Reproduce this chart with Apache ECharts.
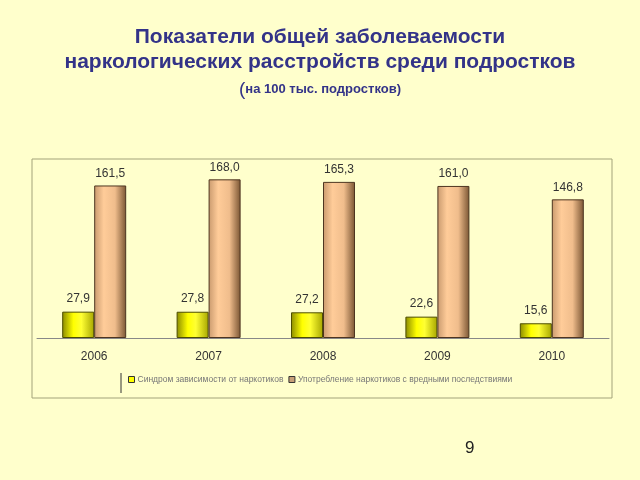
<!DOCTYPE html>
<html><head><meta charset="utf-8">
<script src="https://cdn.jsdelivr.net/npm/echarts@6/dist/echarts.min.js"></script>
<style>html,body{margin:0;padding:0;background:#FFFFCC;}#c{width:640px;height:480px;}</style>
</head><body><div id="c"></div>
<script>
const categories = ['2006','2007','2008','2009','2010'];
const seriesNames = ['Синдром зависимости от наркотиков','Употребление наркотиков с вредными последствиями'];
const syndrome = [27.9, 27.8, 27.2, 22.6, 15.6];
const harmfulUse = [161.5, 168.0, 165.3, 161.0, 146.8];

const fmt = p => p.value.toFixed(1).replace('.', ',');
const yellowGrad = new echarts.graphic.LinearGradient(0,0,1,0,[
  {offset:0,color:'#8a8a00'},{offset:0.35,color:'#ffff00'},{offset:0.6,color:'#ffff33'},{offset:1,color:'#a6a600'}]);
const orangeGrad = new echarts.graphic.LinearGradient(0,0,1,0,[
  {offset:0,color:'#c99a6e'},{offset:0.3,color:'#ffcc99'},{offset:0.65,color:'#f0bd8c'},{offset:1,color:'#7a5533'}]);

const chart = echarts.init(document.getElementById('c'));
chart.setOption({
  backgroundColor:'#FFFFCC',
  animation:false,
  title:[{
    text:'Показатели общей заболеваемости\nнаркологических расстройств среди подростков',
    left:'center', top:20,
    textStyle:{color:'#333388',fontFamily:'Liberation Sans, Arial',fontSize:21,fontWeight:'bold',lineHeight:25}
  },{
    text:'{p|(}на 100 тыс. подростков)',
    left:'center', top:75,
    textStyle:{color:'#333388',fontFamily:'Liberation Sans, Arial',fontSize:13,fontWeight:'bold',
      rich:{p:{fontSize:19,fontWeight:'normal',color:'#333388',fontFamily:'Liberation Sans, Arial'}}}
  }],
  graphic:[
    {type:'rect',shape:{x:32,y:159,width:580,height:239},style:{fill:'none',stroke:'#a3a37a',lineWidth:1},z:-1},
    {type:'line',shape:{x1:121,y1:373,x2:121,y2:393},style:{stroke:'#333',lineWidth:1}},
    {type:'text',left:465,top:440,style:{text:'9',fill:'#222',fontSize:17,fontFamily:'Liberation Sans, Arial'}}
  ],
  legend:{
    bottom:91, left:123, itemGap:5, itemWidth:6, itemHeight:6,
    textStyle:{fontSize:8.5,color:'#777',fontFamily:'Liberation Sans, Arial',padding:[0,0,0,-2]},
    data:[{name:seriesNames[0],itemStyle:{color:'#ffff00',borderColor:'#333',borderWidth:1}},
          {name:seriesNames[1],itemStyle:{color:'#c8a078',borderColor:'#333',borderWidth:1}}],
    icon:'rect'
  },
  grid:{left:37,right:31,top:168,bottom:142},
  xAxis:{
    type:'category', data:categories,
    axisLine:{lineStyle:{color:'#888'}},
    axisTick:{interval:1,length:5,lineStyle:{color:'#888'}},
    axisLabel:{color:'#333',fontSize:12,margin:13,fontFamily:'Liberation Sans, Arial'}
  },
  yAxis:{type:'value',min:0,max:180,show:false,splitLine:{show:false}},
  series:[
    {name:seriesNames[0],type:'bar',data:syndrome,barWidth:32,barGap:'0%',
     itemStyle:{color:yellowGrad,borderColor:'#4d4d00',borderWidth:1},
     label:{show:true,position:'top',distance:7,formatter:fmt,color:'#333',fontSize:12,fontFamily:'Liberation Sans, Arial'}},
    {name:seriesNames[1],type:'bar',data:harmfulUse,barWidth:32,
     itemStyle:{color:orangeGrad,borderColor:'#4d3520',borderWidth:1},
     label:{show:true,position:'top',distance:6,formatter:fmt,color:'#333',fontSize:12,fontFamily:'Liberation Sans, Arial'}}
  ]
});
</script></body></html>
